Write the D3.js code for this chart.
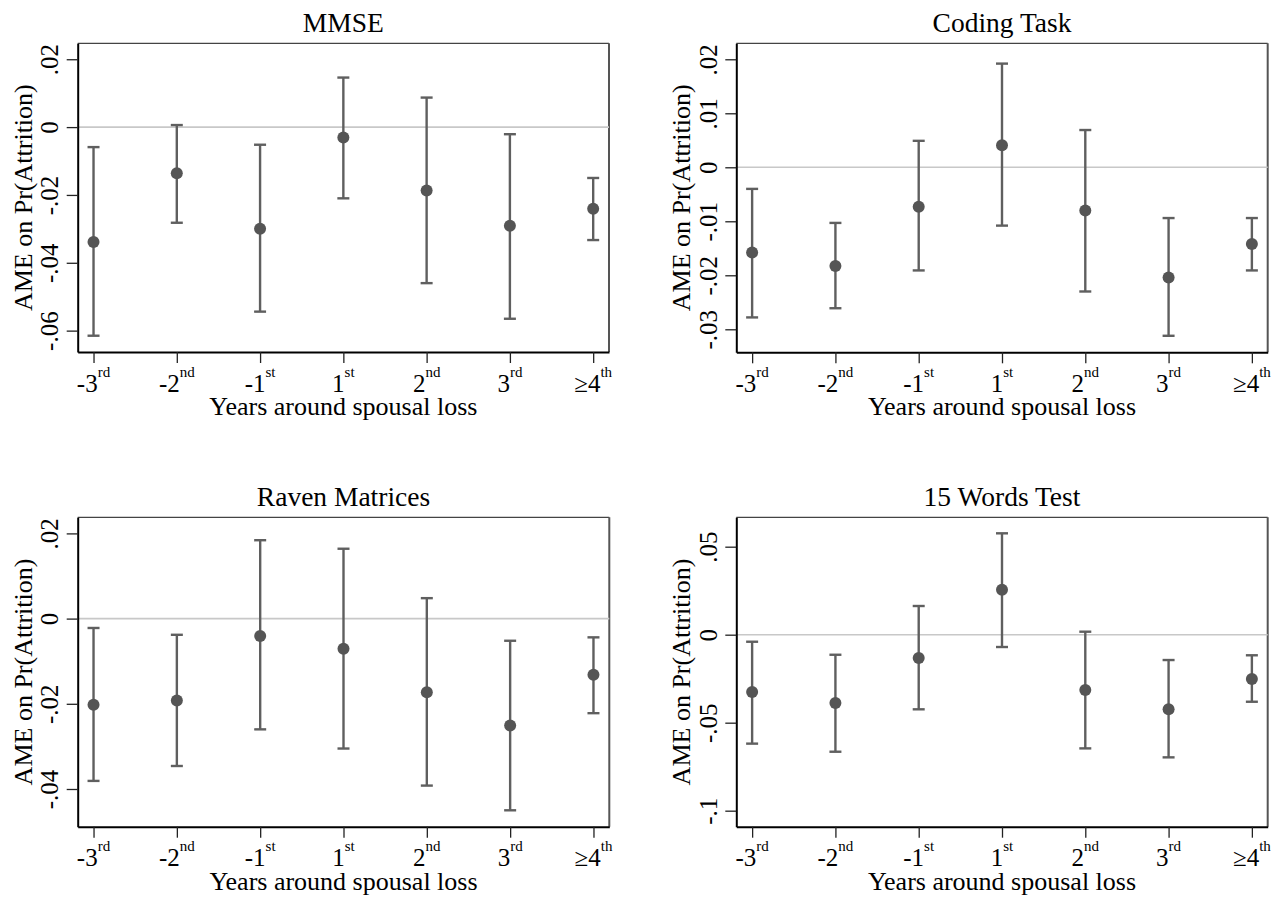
<!DOCTYPE html>
<html>
<head>
<meta charset="utf-8">
<script src="https://cdn.jsdelivr.net/npm/d3@7"></script>
<style>
  html, body { margin: 0; padding: 0; background: #fff; }
  svg { display: block; font-family: "Liberation Serif", "Times New Roman", serif; }
</style>
</head>
<body>
<svg id="chart" width="1282" height="900"></svg>
<script>
// ---------- data ----------
const categories = ["-3", "-2", "-1", "1", "2", "3", "\u22654"];
const suffixes   = ["rd", "nd", "st", "st", "nd", "rd", "th"];

const mmseEst = [-0.0339, -0.0136, -0.0300, -0.0031, -0.0187, -0.0291, -0.0241];
const mmseLo  = [-0.0615, -0.0282, -0.0544, -0.0210, -0.0460, -0.0565, -0.0333];
const mmseHi  = [-0.0059,  0.0006, -0.0052,  0.0146,  0.0087, -0.0021, -0.0150];
const mmseTicks = [0.02, 0, -0.02, -0.04, -0.06];
const mmseDomain = [-0.0663, 0.0247];

const codingEst = [-0.0158, -0.0183, -0.0073,  0.0041, -0.0080, -0.0204, -0.0142];
const codingLo  = [-0.0278, -0.0261, -0.0191, -0.0108, -0.0230, -0.0312, -0.0191];
const codingHi  = [-0.0040, -0.0103,  0.0049,  0.0192,  0.0069, -0.0094, -0.0094];
const codingTicks = [0.02, 0.01, 0, -0.01, -0.02, -0.03];
const codingDomain = [-0.03426, 0.02296];

const ravenEst = [-0.0202, -0.0192, -0.0041, -0.0071, -0.0173, -0.0251, -0.0132];
const ravenLo  = [-0.0381, -0.0346, -0.0260, -0.0305, -0.0392, -0.0450, -0.0222];
const ravenHi  = [-0.0022, -0.0038,  0.0184,  0.0164,  0.0048, -0.0052, -0.0044];
const ravenTicks = [0.02, 0, -0.02, -0.04];
const ravenDomain = [-0.04885, 0.02378];

const wordsEst = [-0.0326, -0.0388, -0.0133,  0.0256, -0.0314, -0.0424, -0.0252];
const wordsLo  = [-0.0619, -0.0665, -0.0424, -0.0070, -0.0646, -0.0697, -0.0381];
const wordsHi  = [-0.0040, -0.0114,  0.0163,  0.0576,  0.0017, -0.0144, -0.0117];
const wordsTicks = [0.05, 0, -0.05, -0.1];
const wordsDomain = [-0.1091, 0.0667];

const titles = ["MMSE", "Coding Task", "Raven Matrices", "15 Words Test"];
const xTitle = "Years around spousal loss";
const yTitle = "AME on Pr(Attrition)";

// ---------- layout ----------
const panels = [
  { title: titles[0], est: mmseEst,   lo: mmseLo,   hi: mmseHi,   ticks: mmseTicks,   domain: mmseDomain,   x0: 77.7,  x1: 609,    y0: 43.3,  y1: 352 },
  { title: titles[1], est: codingEst, lo: codingLo, hi: codingHi, ticks: codingTicks, domain: codingDomain, x0: 736.3, x1: 1267.7, y0: 43.3,  y1: 352.3 },
  { title: titles[2], est: ravenEst,  lo: ravenLo,  hi: ravenHi,  ticks: ravenTicks,  domain: ravenDomain,  x0: 77.7,  x1: 609.3,  y0: 517.3, y1: 826.7 },
  { title: titles[3], est: wordsEst,  lo: wordsLo,  hi: wordsHi,  ticks: wordsTicks,  domain: wordsDomain,  x0: 736.3, x1: 1267.7, y0: 517.3, y1: 826.7 }
];

const fmt = v => {
  if (v === 0) return "0";
  let s = String(+v.toFixed(4));
  return s.replace("0.", ".");
};

const svg = d3.select("#chart");
const barColor = "#5f5f5f";
const dotColor = "#555555";

panels.forEach(p => {
  const g = svg.append("g");
  const x = d3.scaleLinear().domain([-0.19, 6.19]).range([p.x0, p.x1]);
  const y = d3.scaleLinear().domain(p.domain).range([p.y1, p.y0]);

  // plot region frame (top / right)
  g.append("line").attr("x1", p.x0).attr("x2", p.x1).attr("y1", p.y0).attr("y2", p.y0)
    .attr("stroke", "#444").attr("stroke-width", 1.2);
  g.append("line").attr("x1", p.x1).attr("x2", p.x1).attr("y1", p.y0).attr("y2", p.y1)
    .attr("stroke", "#555").attr("stroke-width", 2);

  // zero reference line
  g.append("line").attr("x1", p.x0).attr("x2", p.x1).attr("y1", y(0)).attr("y2", y(0))
    .attr("stroke", "#c8c8c8").attr("stroke-width", 1.6);

  // y axis
  const ya = g.append("g").attr("transform", `translate(${p.x0},0)`)
    .call(d3.axisLeft(y).tickValues(p.ticks).tickSize(11).tickSizeOuter(0).tickFormat(fmt));
  ya.select(".domain").attr("stroke", "#000").attr("stroke-width", 2);
  ya.selectAll(".tick line").attr("stroke", "#222").attr("stroke-width", 1.3);
  ya.selectAll(".tick text")
    .attr("transform", "rotate(-90)")
    .attr("x", 0).attr("y", -19.4).attr("dy", null)
    .attr("text-anchor", "middle")
    .attr("font-size", 25).attr("fill", "#000")
    .attr("font-family", "Liberation Serif");

  // x axis
  const xa = g.append("g").attr("transform", `translate(0,${p.y1})`)
    .call(d3.axisBottom(x).tickValues(d3.range(categories.length)).tickSize(11).tickSizeOuter(0).tickFormat(""));
  xa.select(".domain").attr("stroke", "#000").attr("stroke-width", 2);
  xa.selectAll(".tick line").attr("stroke", "#222").attr("stroke-width", 1.3);
  xa.selectAll(".tick text").remove();
  categories.forEach((c, i) => {
    const t = g.append("text")
      .attr("x", x(i)).attr("y", p.y1 + 39.5)
      .attr("text-anchor", "middle")
      .attr("font-size", 25).attr("fill", "#000");
    t.append("tspan").text(c);
    t.append("tspan").attr("dy", -15).attr("font-size", 15).text(suffixes[i]);
  });

  // titles
  g.append("text").attr("x", (p.x0 + p.x1) / 2).attr("y", p.y0 - 11)
    .attr("text-anchor", "middle").attr("font-size", 27.5).attr("fill", "#000").text(p.title);
  g.append("text").attr("x", (p.x0 + p.x1) / 2).attr("y", p.y1 + 63)
    .attr("text-anchor", "middle").attr("font-size", 26).attr("fill", "#000").text(xTitle);
  g.append("text")
    .attr("transform", `translate(${p.x0 - 46},${(p.y0 + p.y1) / 2}) rotate(-90)`)
    .attr("text-anchor", "middle").attr("font-size", 26).attr("fill", "#000").text(yTitle);

  // error bars
  const idx = d3.range(categories.length);
  const bars = g.append("g");
  bars.selectAll("line.v").data(idx).join("line").attr("class", "v")
    .attr("x1", i => x(i)).attr("x2", i => x(i))
    .attr("y1", i => y(p.lo[i])).attr("y2", i => y(p.hi[i]))
    .attr("stroke", barColor).attr("stroke-width", 2.4);
  bars.selectAll("line.cl").data(idx).join("line").attr("class", "cl")
    .attr("x1", i => x(i) - 6).attr("x2", i => x(i) + 6)
    .attr("y1", i => y(p.lo[i])).attr("y2", i => y(p.lo[i]))
    .attr("stroke", barColor).attr("stroke-width", 2.4);
  bars.selectAll("line.ch").data(idx).join("line").attr("class", "ch")
    .attr("x1", i => x(i) - 6).attr("x2", i => x(i) + 6)
    .attr("y1", i => y(p.hi[i])).attr("y2", i => y(p.hi[i]))
    .attr("stroke", barColor).attr("stroke-width", 2.4);
  bars.selectAll("circle").data(idx).join("circle")
    .attr("cx", i => x(i)).attr("cy", i => y(p.est[i])).attr("r", 6)
    .attr("fill", dotColor);
});
</script>
</body>
</html>
